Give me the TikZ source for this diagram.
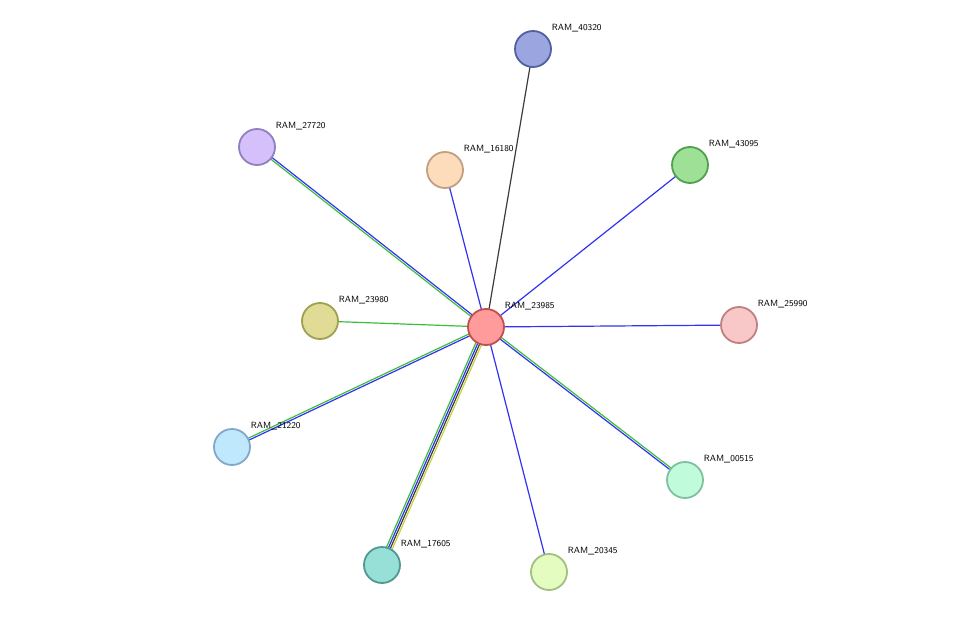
\documentclass[tikz,border=0pt]{standalone}
\usetikzlibrary{calc,backgrounds}
\definecolor{eblue}{RGB}{50,50,240}
\definecolor{egreen}{RGB}{60,190,60}
\definecolor{eyellow}{RGB}{200,210,60}
\definecolor{eblack}{RGB}{60,60,60}
\tikzset{
  prot/.style={circle,minimum size=36pt,inner sep=0pt,line width=1.8pt},
  lab/.style={anchor=west,inner sep=0.75pt,font=\sffamily\fontsize{9}{10}\selectfont},
}
% one line of a bundle, shifted sideways by #3
\newcommand{\bundleline}[4]{\draw[#4,line width=1.2pt] ($(#1)!#3!90:(#2)$) -- ($(#2)!#3!-90:(#1)$);}
\begin{document}
\begin{tikzpicture}[x=1pt,y=1pt,yscale=-1]
    \useasboundingbox (0,0) rectangle (975,618);
    
    % proteins
    \node[prot,fill={rgb,255:red,255;green,155;blue,155},draw={rgb,255:red,192;green,80;blue,80}] (c) at (486,327) {};
    \node[prot,fill={rgb,255:red,155;green,166;blue,224},draw={rgb,255:red,80;green,96;blue,160}] (p40320) at (533,49) {};
    \node[prot,fill={rgb,255:red,213;green,192;blue,251},draw={rgb,255:red,144;green,128;blue,192}] (p27720) at (257,147) {};
    \node[prot,fill={rgb,255:red,253;green,220;blue,187},draw={rgb,255:red,192;green,160;blue,128}] (p16180) at (445,170) {};
    \node[prot,fill={rgb,255:red,158;green,224;blue,150},draw={rgb,255:red,80;green,160;blue,80}] (p43095) at (690,165) {};
    \node[prot,fill={rgb,255:red,224;green,220;blue,150},draw={rgb,255:red,160;green,160;blue,80}] (p23980) at (320,321) {};
    \node[prot,fill={rgb,255:red,248;green,200;blue,200},draw={rgb,255:red,192;green,128;blue,128}] (p25990) at (739,325) {};
    \node[prot,fill={rgb,255:red,192;green,232;blue,252},draw={rgb,255:red,128;green,168;blue,200}] (p21220) at (232,447) {};
    \node[prot,fill={rgb,255:red,192;green,252;blue,220},draw={rgb,255:red,128;green,192;blue,160}] (p00515) at (685,480) {};
    \node[prot,fill={rgb,255:red,150;green,224;blue,216},draw={rgb,255:red,80;green,152;blue,144}] (p17605) at (382,565) {};
    \node[prot,fill={rgb,255:red,228;green,252;blue,192},draw={rgb,255:red,160;green,192;blue,128}] (p20345) at (549,572) {};
    
    % labels
    \foreach \n/\t in {c/23985,p40320/40320,p27720/27720,p16180/16180,p43095/43095,p23980/23980,p25990/25990,p21220/21220,p00515/00515,p17605/17605,p20345/20345}
      \node[lab] at ($(\n)+(18,-21)$) {RAM\_\t};
    
    % interactions
    \begin{scope}[on background layer]
    \bundleline{c}{p40320}{0pt}{eblack}
    \bundleline{c}{p16180}{0pt}{eblue}
    \bundleline{c}{p43095}{0pt}{eblue}
    \bundleline{c}{p23980}{0pt}{egreen}
    \bundleline{c}{p25990}{0pt}{eblue}
    \bundleline{c}{p20345}{0pt}{eblue}
    \bundleline{c}{p27720}{1pt}{eblue}
    \bundleline{c}{p27720}{-1pt}{egreen}
    \bundleline{c}{p21220}{1pt}{egreen}
    \bundleline{c}{p21220}{-1pt}{eblue}
    \bundleline{c}{p00515}{1pt}{eblue}
    \bundleline{c}{p00515}{-1pt}{egreen}
    \bundleline{c}{p17605}{3pt}{egreen}
    \bundleline{c}{p17605}{1pt}{eblue}
    \bundleline{c}{p17605}{-1pt}{eblack}
    \bundleline{c}{p17605}{-3pt}{eyellow}
    \end{scope}
\end{tikzpicture}
\end{document}
